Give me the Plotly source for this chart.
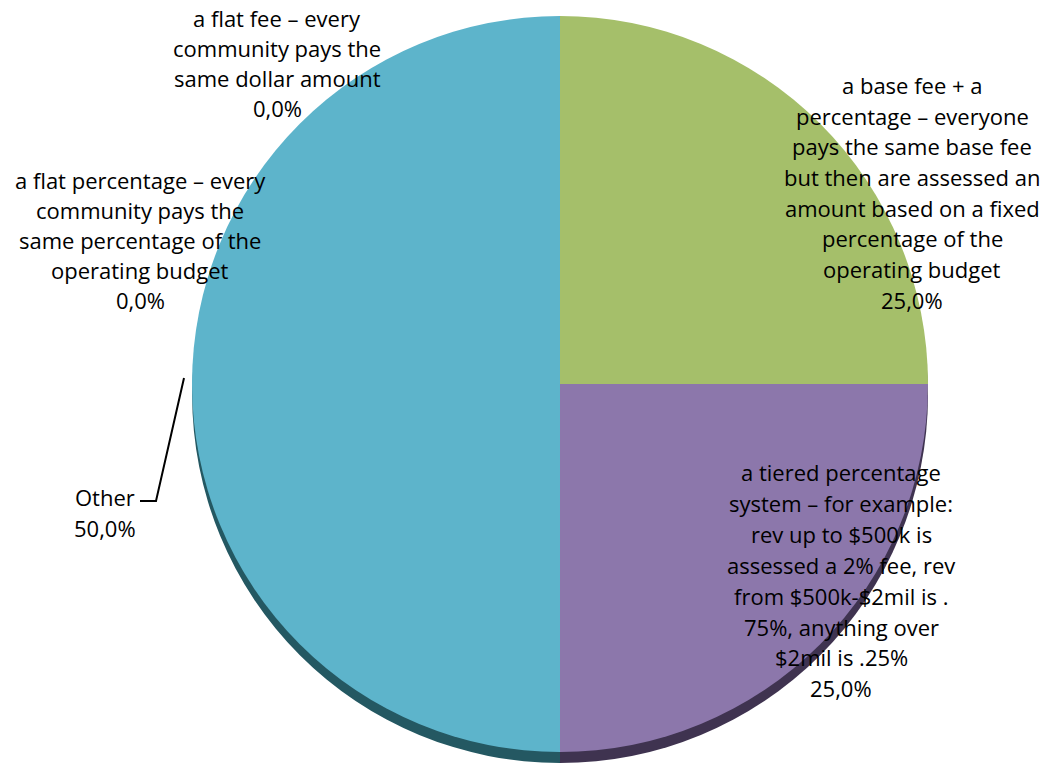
import plotly.graph_objects as go

W, H = 1043, 763

# Fee structure options and their shares
categories = [
    "a flat fee – every community pays the same dollar amount",
    "a flat percentage – every community pays the same percentage of the operating budget",
    "a base fee + a percentage – everyone pays the same base fee but then are assessed an amount based on a fixed percentage of the operating budget",
    "a tiered percentage system – for example: rev up to $500k is assessed a 2% fee, rev from $500k-$2mil is .75%, anything over $2mil is .25%",
    "Other",
]
shares = [0.0, 0.0, 25.0, 25.0, 50.0]

# Wrapped label lines as they appear around the pie
label_lines = [
    ["a flat fee – every", "community pays the", "same dollar amount"],
    ["a flat percentage – every", "community pays the", "same percentage of the", "operating budget"],
    ["a base fee + a", "percentage – everyone", "pays the same base fee", "but then are assessed an",
     "amount based on a fixed", "percentage of the", "operating budget"],
    ["a tiered percentage", "system – for example:", "rev up to $500k is", "assessed a 2% fee, rev",
     "from $500k-$2mil is .", "75%, anything over", "$2mil is .25%"],
    ["Other"],
]

face_colors = ["#4F81BD", "#C0504D", "#A5BF6A", "#8C77AB", "#5DB4CB"]
shadow_colors = ["#2A4566", "#662A28", "#55652F", "#3F3350", "#245862"]

# pie geometry in pixels
cx, cy, r = 560, 384, 368
shadow_drop = 11


def dom(cx, cy, r):
    return dict(x=[(cx - r) / W, (cx + r) / W],
                y=[(H - cy - r) / H, (H - cy + r) / H])


fig = go.Figure()
for colors, drop in [(shadow_colors, shadow_drop), (face_colors, 0)]:
    fig.add_trace(go.Pie(
        labels=categories,
        values=shares,
        sort=False,
        direction="clockwise",
        rotation=0,
        textinfo="none",
        hoverinfo="label+percent",
        marker=dict(colors=colors, line=dict(width=0)),
        domain=dom(cx, cy + drop, r),
        showlegend=False,
    ))

# label block anchors (center x, first line y) and line spacing, in pixels
anchors = [(277, 18), (140, 180), (912, 85), (841, 472), (105, 497)]
line_gap = [30, 30, 30.7, 30.9, 31]

annotations = []
for lines, share, (ax, ay), gap in zip(label_lines, shares, anchors, line_gap):
    all_lines = lines + [f"{share:.1f}%".replace(".", ",")]
    for i, t in enumerate(all_lines):
        annotations.append(dict(
            x=ax / W, y=1 - (ay + i * gap) / H, xref="paper", yref="paper",
            text=t, showarrow=False, xanchor="center", yanchor="middle",
            font=dict(family="Open Sans", size=22, color="#000000"),
        ))

# leader line for the "Other" label
pts = [(140, 501), (156, 501), (184, 378)]
path = "M " + " L ".join(f"{x / W},{1 - y / H}" for x, y in pts)
shapes = [dict(type="path", path=path, xref="paper", yref="paper",
               line=dict(color="#000000", width=2))]

fig.update_layout(
    width=W, height=H,
    margin=dict(l=0, r=0, t=0, b=0),
    paper_bgcolor="white",
    plot_bgcolor="white",
    annotations=annotations,
    shapes=shapes,
)

fig.write_html("out.html")
